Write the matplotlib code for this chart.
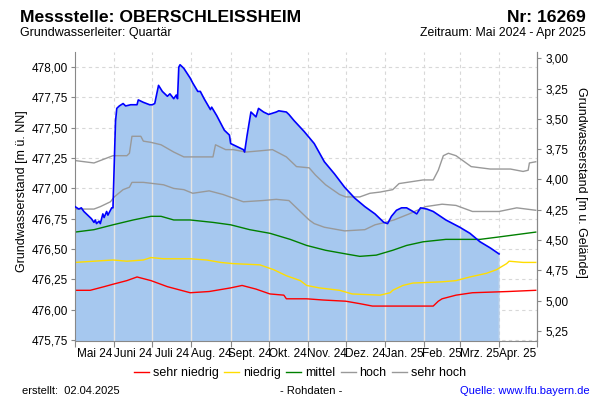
# -*- coding: utf-8 -*-
# Grundwasserstand Messstelle Oberschleissheim, Mai 2024 - Apr 2025
import numpy as np
import pandas as pd
import matplotlib
matplotlib.use('Agg')
import matplotlib.pyplot as plt
import matplotlib.dates as mdates
from matplotlib.ticker import FixedLocator, FuncFormatter, NullFormatter
from matplotlib.lines import Line2D

plt.rcParams['font.family'] = ['Liberation Sans', 'DejaVu Sans']

GELAENDE = 481.074  # m ü. NN, fuer die rechte Achse

# Messwerte (Rohdaten)
mess_tage = ['2024-05-01', '2024-05-04', '2024-05-06', '2024-05-08', '2024-05-11', '2024-05-14',
             '2024-05-16', '2024-05-17', '2024-05-18', '2024-05-20', '2024-05-21', '2024-05-23',
             '2024-05-24', '2024-05-26', '2024-05-27', '2024-05-30', '2024-05-31', '2024-06-01',
             '2024-06-02', '2024-06-03', '2024-06-05', '2024-06-08', '2024-06-10', '2024-06-14',
             '2024-06-19', '2024-06-20', '2024-06-24', '2024-06-29', '2024-07-01', '2024-07-03',
             '2024-07-06', '2024-07-09', '2024-07-13', '2024-07-15', '2024-07-18', '2024-07-20',
             '2024-07-21', '2024-07-22', '2024-07-23', '2024-07-26', '2024-07-31', '2024-08-02',
             '2024-08-06', '2024-08-08', '2024-08-11', '2024-08-16', '2024-08-17', '2024-08-21',
             '2024-08-27', '2024-08-31', '2024-09-01', '2024-09-07', '2024-09-09', '2024-09-11',
             '2024-09-12', '2024-09-14', '2024-09-17', '2024-09-19', '2024-09-21', '2024-09-23',
             '2024-09-27', '2024-10-01', '2024-10-07', '2024-10-09', '2024-10-15', '2024-10-17',
             '2024-10-21', '2024-10-29', '2024-11-06', '2024-11-14', '2024-11-22', '2024-11-30',
             '2024-12-08', '2024-12-16', '2024-12-24', '2024-12-31', '2025-01-03', '2025-01-06',
             '2025-01-10', '2025-01-14', '2025-01-18', '2025-01-23', '2025-01-26', '2025-01-29',
             '2025-02-03', '2025-02-08', '2025-02-18', '2025-03-01', '2025-03-09', '2025-03-17',
             '2025-03-25', '2025-04-01']
mess_werte = [476.85, 476.83, 476.84, 476.81, 476.78, 476.75,
              476.72, 476.74, 476.71, 476.73, 476.71, 476.79,
              476.76, 476.81, 476.78, 476.84, 476.84, 477.20,
              477.55, 477.66, 477.68, 477.70, 477.68, 477.69,
              477.69, 477.73, 477.71, 477.69, 477.69, 477.70,
              477.85, 477.80, 477.76, 477.78, 477.74, 477.77,
              477.74, 478.00, 478.02, 477.99, 477.91, 477.87,
              477.80, 477.80, 477.74, 477.65, 477.67, 477.60,
              477.48, 477.44, 477.37, 477.34, 477.33, 477.32,
              477.30, 477.44, 477.63, 477.61, 477.59, 477.66,
              477.63, 477.61, 477.63, 477.64, 477.63, 477.61,
              477.56, 477.47, 477.37, 477.22, 477.12, 477.01,
              476.92, 476.85, 476.79, 476.72, 476.71, 476.77,
              476.82, 476.84, 476.84, 476.81, 476.79, 476.84,
              476.83, 476.81, 476.74, 476.68, 476.63, 476.56,
              476.51, 476.46]

# Vergleichswerte
sehr_hoch_tage = ['2024-05-01', '2024-05-16', '2024-05-26', '2024-05-31', '2024-06-11', '2024-06-13',
                  '2024-06-15', '2024-06-22', '2024-06-24', '2024-06-30', '2024-07-08', '2024-07-18',
                  '2024-07-26', '2024-07-31', '2024-08-18', '2024-08-20', '2024-08-28', '2024-09-03',
                  '2024-09-13', '2024-09-24', '2024-10-04', '2024-10-15', '2024-10-23', '2024-11-02',
                  '2024-11-07', '2024-11-15', '2024-11-26', '2024-12-01', '2024-12-12', '2024-12-20',
                  '2024-12-28', '2025-01-07', '2025-01-12', '2025-01-31', '2025-02-08', '2025-02-12',
                  '2025-02-16', '2025-02-20', '2025-02-26', '2025-03-10', '2025-03-25', '2025-04-10',
                  '2025-04-20', '2025-04-24', '2025-04-25', '2025-04-30']
sehr_hoch = [477.23, 477.21, 477.25, 477.27, 477.27, 477.29,
             477.43, 477.43, 477.39, 477.38, 477.36, 477.30,
             477.26, 477.26, 477.26, 477.36, 477.32, 477.32,
             477.30, 477.31, 477.32, 477.26, 477.18, 477.17,
             477.11, 477.03, 476.95, 476.93, 476.93, 476.96,
             476.97, 476.99, 477.04, 477.07, 477.07, 477.15,
             477.27, 477.29, 477.27, 477.18, 477.16, 477.16,
             477.14, 477.15, 477.21, 477.22]

hoch_tage = ['2024-05-01', '2024-05-16', '2024-05-21', '2024-05-29', '2024-06-01', '2024-06-08',
             '2024-06-13', '2024-06-15', '2024-06-24', '2024-07-02', '2024-07-10', '2024-07-18',
             '2024-07-26', '2024-08-02', '2024-08-15', '2024-08-26', '2024-09-11', '2024-09-26',
             '2024-10-07', '2024-10-17', '2024-10-25', '2024-11-02', '2024-11-06', '2024-11-14',
             '2024-11-30', '2024-12-16', '2024-12-24', '2025-01-01', '2025-01-08', '2025-01-20',
             '2025-02-02', '2025-02-15', '2025-02-26', '2025-03-11', '2025-04-01', '2025-04-15',
             '2025-04-30']
hoch = [476.83, 476.83, 476.85, 476.89, 476.93, 476.99,
        477.01, 477.05, 477.05, 477.04, 477.03, 477.00,
        476.99, 476.96, 476.98, 476.95, 476.89, 476.90,
        476.91, 476.90, 476.82, 476.74, 476.71, 476.68,
        476.65, 476.66, 476.70, 476.72, 476.74, 476.79,
        476.85, 476.87, 476.86, 476.81, 476.81, 476.84,
        476.82]

mittel_tage = ['2024-05-01', '2024-05-16', '2024-05-31', '2024-06-16', '2024-06-30', '2024-07-08',
               '2024-07-18', '2024-07-31', '2024-08-18', '2024-09-01', '2024-09-16', '2024-10-02',
               '2024-10-18', '2024-10-31', '2024-11-15', '2024-12-01', '2024-12-12', '2024-12-25',
               '2025-01-07', '2025-01-18', '2025-01-31', '2025-02-18', '2025-03-17', '2025-04-01',
               '2025-04-30']
mittel = [476.64, 476.66, 476.70, 476.74, 476.77, 476.77,
          476.74, 476.74, 476.72, 476.70, 476.66, 476.63,
          476.58, 476.53, 476.49, 476.46, 476.44, 476.45,
          476.49, 476.53, 476.56, 476.58, 476.58, 476.60,
          476.64]

niedrig_tage = ['2024-05-01', '2024-05-16', '2024-05-31', '2024-06-11', '2024-06-24', '2024-06-30',
                '2024-07-10', '2024-07-31', '2024-08-13', '2024-08-24', '2024-09-03', '2024-09-24',
                '2024-10-05', '2024-10-15', '2024-10-26', '2024-10-31', '2024-11-10', '2024-11-26',
                '2024-12-06', '2024-12-28', '2025-01-05', '2025-01-07', '2025-01-15', '2025-01-23',
                '2025-02-15', '2025-02-26', '2025-03-09', '2025-03-22', '2025-03-30', '2025-04-07',
                '2025-04-09', '2025-04-20', '2025-04-30']
niedrig = [476.39, 476.40, 476.41, 476.40, 476.41, 476.43,
           476.42, 476.42, 476.41, 476.39, 476.38, 476.37,
           476.33, 476.28, 476.24, 476.20, 476.18, 476.16,
           476.13, 476.12, 476.14, 476.16, 476.20, 476.22,
           476.23, 476.24, 476.27, 476.30, 476.33, 476.38,
           476.40, 476.39, 476.39]

sehr_niedrig_tage = ['2024-05-01', '2024-05-13', '2024-05-24', '2024-05-31', '2024-06-11', '2024-06-19',
                     '2024-06-30', '2024-07-13', '2024-07-31', '2024-08-15', '2024-09-01', '2024-09-10',
                     '2024-09-21', '2024-10-02', '2024-10-13', '2024-10-15', '2024-10-31', '2024-11-13',
                     '2024-12-01', '2024-12-12', '2024-12-22', '2025-02-08', '2025-02-12', '2025-02-15',
                     '2025-02-26', '2025-03-11', '2025-04-08', '2025-04-30']
sehr_niedrig = [476.16, 476.16, 476.19, 476.21, 476.24, 476.27,
                476.24, 476.19, 476.14, 476.15, 476.18, 476.20,
                476.17, 476.13, 476.12, 476.09, 476.09, 476.08,
                476.07, 476.05, 476.03, 476.03, 476.07, 476.09,
                476.12, 476.14, 476.15, 476.16]

monate = ['Mai 24', 'Juni 24', 'Juli 24', 'Aug. 24', 'Sept. 24', 'Okt. 24',
          'Nov. 24', 'Dez. 24', 'Jan. 25', 'Feb. 25', 'Mrz. 25', 'Apr. 25']

links_ticks = np.arange(475.75, 478.01, 0.25)
rechts_ticks = np.arange(3.0, 5.26, 0.25)

GRAU = '#888888'


def komma(v, pos=None):
    return ('%.2f' % v).replace('.', ',')


def run():
    fig = plt.figure(figsize=(6, 4), dpi=100)
    ax = fig.add_axes([75 / 600, 1 - 341 / 400, 462 / 600, 289 / 400])

    t = pd.to_datetime(mess_tage)
    start = pd.Timestamp('2024-05-01')
    ende = pd.Timestamp('2025-05-01')
    monat_anf = pd.date_range(start, ende, freq='MS')
    xs = mdates.date2num(monat_anf)
    mitten = (xs[:-1] + xs[1:]) / 2

    ax.set_xlim(xs[0], xs[-1])
    ax.set_ylim(475.742, 478.125)

    # gestrichelte Gitterlinien im Hintergrund
    for y in links_ticks:
        ax.axhline(y, color='#d8d8d8', lw=0.8, ls=(0, (3, 3)), zorder=0)
    for x in xs[1:-1]:
        ax.axvline(x, color='#d8d8d8', lw=0.8, ls=(0, (3, 3)), zorder=0)

    fl = ax.fill_between(mdates.date2num(t), 475.742, mess_werte,
                         color='#a6c8ef', lw=0, zorder=1)
    vl = ax.vlines(xs[1:-1], 475.742, 478.125, colors='#e4e4e4', lw=1.0, zorder=1.5)
    vl.set_clip_path(fl.get_paths()[0], ax.transData)

    ax.plot(pd.to_datetime(sehr_niedrig_tage), sehr_niedrig, color='#ff0000', lw=1.0, zorder=2)
    ax.plot(pd.to_datetime(niedrig_tage), niedrig, color='#ffdd00', lw=1.0, zorder=2)
    ax.plot(pd.to_datetime(mittel_tage), mittel, color='#008000', lw=1.0, zorder=2)
    ax.plot(pd.to_datetime(hoch_tage), hoch, color='#999999', lw=1.0, zorder=2)
    ax.plot(pd.to_datetime(sehr_hoch_tage), sehr_hoch, color='#999999', lw=1.0, zorder=2)
    ax.plot(t, mess_werte, color='#0000ff', lw=1.2, zorder=3)

    # Achsen
    ax.xaxis.set_major_locator(FixedLocator(xs))
    ax.xaxis.set_major_formatter(NullFormatter())
    ax.xaxis.set_minor_locator(FixedLocator(mitten))
    ax.xaxis.set_minor_formatter(FuncFormatter(lambda v, p: monate[p] if p < len(monate) else ''))
    ax.tick_params(axis='x', which='major', length=4, color=GRAU)
    ax.tick_params(axis='x', which='minor', length=0, labelsize=8.5, pad=5)
    ax.yaxis.set_major_locator(FixedLocator(links_ticks))
    ax.yaxis.set_major_formatter(FuncFormatter(komma))
    ax.tick_params(axis='y', length=3, color=GRAU, labelsize=8.5, pad=2)

    for s in ['left', 'bottom', 'right']:
        ax.spines[s].set_color(GRAU)
    ax.spines['top'].set_visible(False)

    sec = ax.secondary_yaxis('right', functions=(lambda v: GELAENDE - v, lambda v: GELAENDE - v))
    sec.set_yticks(rechts_ticks)
    sec.yaxis.set_major_formatter(FuncFormatter(komma))
    sec.tick_params(length=3, color=GRAU, labelsize=8.5, pad=3)
    sec.spines['right'].set_color(GRAU)

    # Texte
    fig.text(20 / 600, 1 - 17 / 400, 'Messstelle: OBERSCHLEISSHEIM', fontsize=12.6,
             fontweight='bold', va='center')
    fig.text(586 / 600, 1 - 17 / 400, 'Nr: 16269', fontsize=12.6, fontweight='bold',
             va='center', ha='right')
    fig.text(20 / 600, 1 - 33 / 400, 'Grundwasserleiter: Quartär', fontsize=9, va='center')
    fig.text(586 / 600, 1 - 33 / 400, 'Zeitraum: Mai 2024 - Apr 2025', fontsize=8.8,
             va='center', ha='right')
    fig.text(22 / 600, 1 - 191 / 400, 'Grundwasserstand [m ü. NN]', fontsize=9,
             rotation=90, va='center', ha='center')
    fig.text(581 / 600, 1 - 182 / 400, 'Grundwasserstand [m u. Gelände]', fontsize=9,
             rotation=-90, va='center', ha='center')
    fig.text(22 / 600, 1 - 391 / 400, 'erstellt:  02.04.2025', fontsize=8, va='center')
    fig.text(311 / 600, 1 - 391 / 400, '- Rohdaten -', fontsize=8, va='center', ha='center')
    fig.text(590 / 600, 1 - 391 / 400, 'Quelle: www.lfu.bayern.de', fontsize=8,
             va='center', ha='right', color='#0000ff')

    handles = [Line2D([], [], color=c, lw=1.0) for c in
               ['#ff0000', '#ffdd00', '#008000', '#999999', '#999999']]
    namen = ['sehr niedrig', 'niedrig', 'mittel', 'hoch', 'sehr hoch']
    fig.legend(handles, namen, loc='center', bbox_to_anchor=(0.5, 1 - 373 / 400), ncol=5,
               frameon=False, fontsize=9, handlelength=1.2, handletextpad=0.3,
               columnspacing=0.45, borderpad=0)

    fig.savefig('out.png', dpi=100)


if __name__ == '__main__':
    run()
